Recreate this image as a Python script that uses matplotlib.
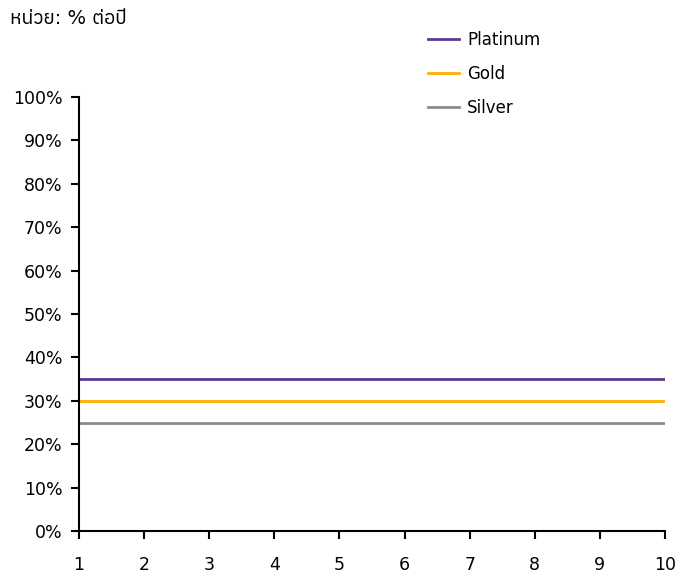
import matplotlib
matplotlib.use('Agg')
import matplotlib.pyplot as plt
from matplotlib import font_manager
from matplotlib.ft2font import FT2Font
from matplotlib.ticker import PercentFormatter

# data
x_vals = [1, 2, 3, 4, 5, 6, 7, 8, 9, 10]
platinum = [35, 35, 35, 35, 35, 35, 35, 35, 35, 35]
gold = [30, 30, 30, 30, 30, 30, 30, 30, 30, 30]
silver = [25, 25, 25, 25, 25, 25, 25, 25, 25, 25]
series_names = ['Platinum', 'Gold', 'Silver']
unit_label = 'หน่วย: % ต่อปี'


def find_thai_family():
    # look for any installed font that has Thai letters
    found = []
    for f in font_manager.fontManager.ttflist:
        try:
            cmap = FT2Font(f.fname).get_charmap()
        except Exception:
            continue
        if all(ord(ch) in cmap for ch in 'หนวยตอป'):
            found.append(f.name)
    return sorted(set(found))


plt.rcParams['font.family'] = ['DejaVu Sans'] + find_thai_family()

fig = plt.figure(figsize=(6.91, 5.81), dpi=100)
ax = fig.add_axes([79 / 691, 1 - 531 / 581, (665 - 79) / 691, (531 - 97) / 581])

colors = ['#5b3a8f', '#ffb000', '#8c8c8c']
for vals, name, c in zip([platinum, gold, silver], series_names, colors):
    ax.plot(x_vals, vals, color=c, lw=2, label=name)

ax.set_xlim(1, 10)
ax.set_ylim(0, 100)
ax.set_xticks(x_vals)
ax.set_yticks(range(0, 101, 10))
ax.yaxis.set_major_formatter(PercentFormatter(decimals=0))

for s in ['top', 'right']:
    ax.spines[s].set_visible(False)
for s in ['left', 'bottom']:
    ax.spines[s].set_linewidth(1.5)
ax.tick_params(axis='both', direction='out', length=6, width=1.5, labelsize=12.5)
ax.tick_params(axis='x', pad=12)
ax.tick_params(axis='y', pad=6)

ax.legend(loc='upper left', bbox_to_anchor=(413 / 691, 1 - 16 / 581), bbox_transform=fig.transFigure,
          frameon=False, fontsize=12, handlelength=1.85, handletextpad=0.5, labelspacing=0.95)

fig.text(10 / 691, 1 - 18 / 581, unit_label, fontsize=14, va='center', ha='left')

fig.savefig('out.png', dpi=100)
